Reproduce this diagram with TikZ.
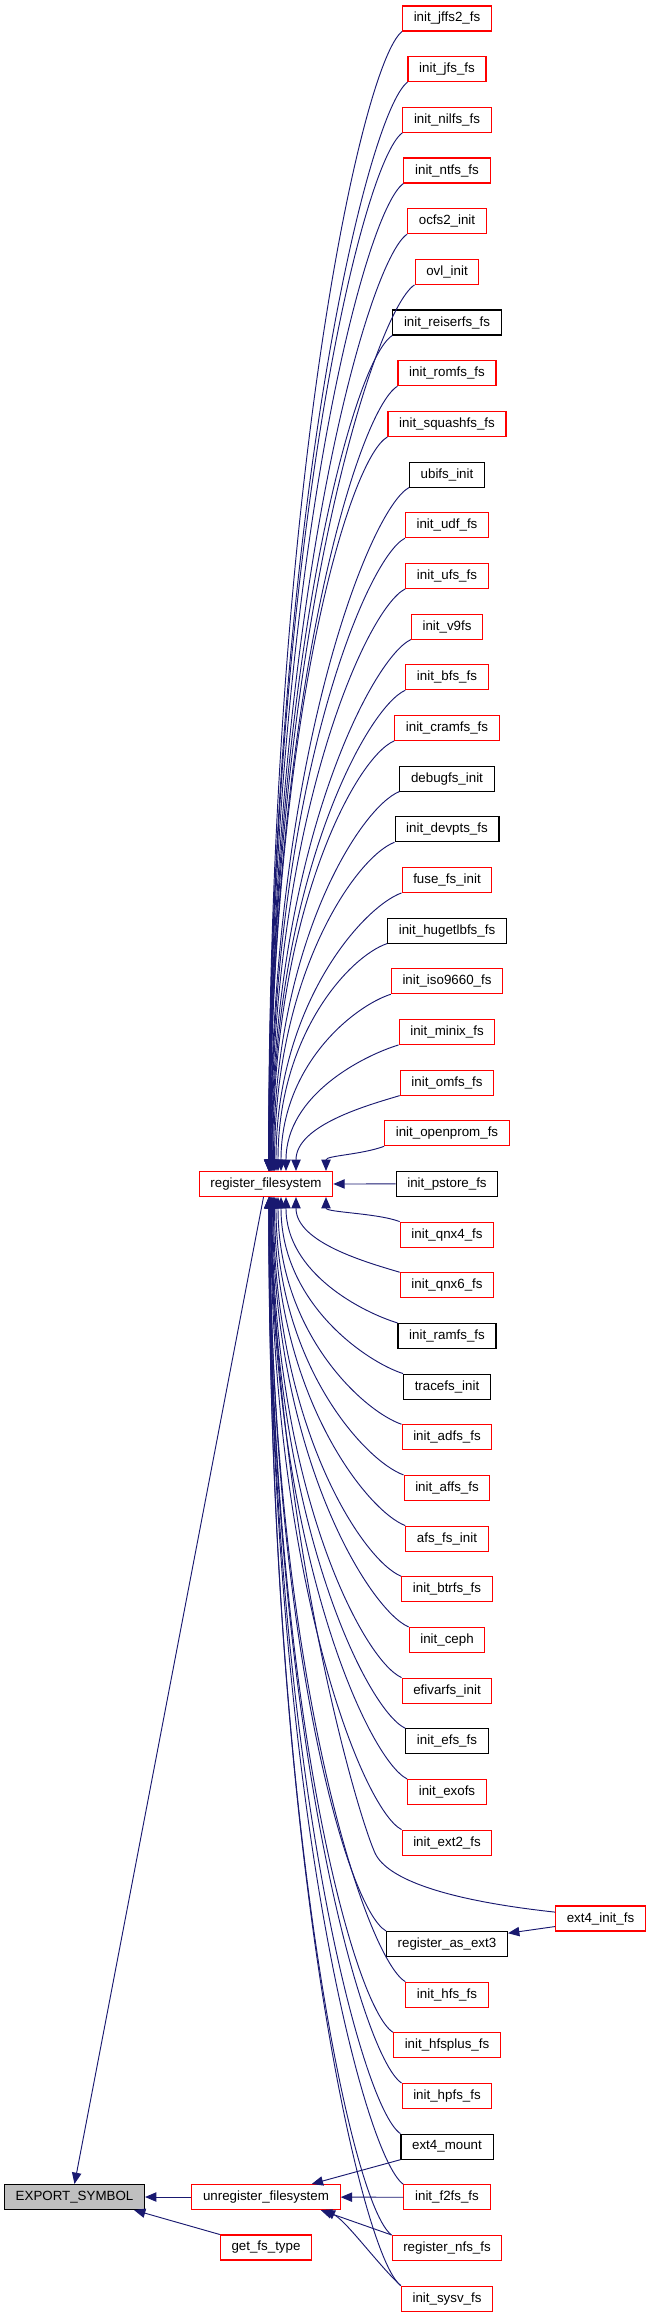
\documentclass[tikz,border=0pt]{standalone}
\usepackage{fontspec}
\setmainfont{Liberation Sans}
\usetikzlibrary{arrows.meta,calc}
\definecolor{midblue}{HTML}{191970}
\definecolor{rootgray}{HTML}{BFBFBF}

\begin{document}
\begin{tikzpicture}[x=0.75pt,y=-0.75pt,
  >={Triangle[length=8.5pt,width=7pt]},
  fsbox/.style={draw=red, line width=0.8pt, fill=white, minimum height=18.75pt,
    inner xsep=8.4pt, inner ysep=0pt, font=\fontsize{10}{12}\selectfont},
  callarrow/.style={draw=midblue, line width=0.7pt, <-, fill=none}]
\useasboundingbox (0,0) rectangle (651,2317);

% right column: callers, one per row
\foreach \r/\lbl/\clr in {0/init\_jffs2\_fs/red, 1/init\_jfs\_fs/red, 2/init\_nilfs\_fs/red,
    3/init\_ntfs\_fs/red, 4/ocfs2\_init/red, 5/ovl\_init/red, 6/init\_reiserfs\_fs/black,
    7/init\_romfs\_fs/red, 8/init\_squashfs\_fs/red, 9/ubifs\_init/black, 10/init\_udf\_fs/red,
    11/init\_ufs\_fs/red, 12/init\_v9fs/red, 13/init\_bfs\_fs/red, 14/init\_cramfs\_fs/red,
    15/debugfs\_init/black, 16/init\_devpts\_fs/black, 17/fuse\_fs\_init/red,
    18/init\_hugetlbfs\_fs/black, 19/init\_iso9660\_fs/red, 20/init\_minix\_fs/red,
    21/init\_omfs\_fs/red, 22/init\_openprom\_fs/red, 23/init\_pstore\_fs/black,
    24/init\_qnx4\_fs/red, 25/init\_qnx6\_fs/red, 26/init\_ramfs\_fs/black, 27/tracefs\_init/black,
    28/init\_adfs\_fs/red, 29/init\_affs\_fs/red, 30/afs\_fs\_init/red, 31/init\_btrfs\_fs/red,
    32/init\_ceph/red, 33/efivarfs\_init/red, 34/init\_efs\_fs/black, 35/init\_exofs/red,
    36/init\_ext2\_fs/red, 38/register\_as\_ext3/black, 39/init\_hfs\_fs/red,
    40/init\_hfsplus\_fs/red, 41/init\_hpfs\_fs/red, 42/ext4\_mount/black, 43/init\_f2fs\_fs/red,
    44/register\_nfs\_fs/red, 45/init\_sysv\_fs/red}
  \node[fsbox, draw=\clr] (fs\r) at (447,{18.5+50.67*\r}) {\lbl};

\node[fsbox] (ext4init) at (600.5,1918.5) {ext4\_init\_fs};
\node[fsbox] (rf) at (266,1184) {register\_filesystem};
\node[fsbox] (unreg) at (266,2197) {unregister\_filesystem};
\node[fsbox] (getfs) at (266,2247.5) {get\_fs\_type};
\node[fsbox, draw=black, fill=rootgray] (export) at (74.5,2197) {EXPORT\_SYMBOL};

% edges into register_filesystem, from above
\foreach \r in {0,...,22} {
  \pgfmathsetmacro\off{60/(23-\r)}
  \pgfmathsetmacro\dx{136-\off}
  \pgfmathsetmacro\dy{31+50.67*\r-1171.5}
  \draw[callarrow] ($(rf.north)+(\off,0)$) .. controls +(0,{0.6*\dy})
    and +({-0.3*\dx},{-0.02*\dy+8}) .. (fs\r.south west);
}
\draw[callarrow] (rf) -- (fs23);
% and from below
\foreach \r in {24,...,36,38,39,...,45} {
  \pgfmathsetmacro\off{60/(\r-23)}
  \pgfmathsetmacro\dx{136-\off}
  \pgfmathsetmacro\dy{6+50.67*\r-1196.5}
  \draw[callarrow] ($(rf.south)+(\off,0)$) .. controls +(0,{0.6*\dy})
    and +({-0.3*\dx},{-0.02*\dy-8}) .. (fs\r.north west);
}
\draw[callarrow] ($(rf.south)+(4,0)$) .. controls +(8,340) and +(-20,-45) .. (375,1853)
  .. controls +(12,26) and +(-110,-12) .. (ext4init.172);
\draw[callarrow] (fs38.10) -- (ext4init.-170);

% bottom group
\draw[callarrow] (export.north) -- (rf);
\draw[callarrow] (export) -- (unreg);
\draw[callarrow] ($(export.south east)+(-11,0)$) -- (getfs.north west);
\draw[callarrow] ($(unreg.north east)+(-29,0)$) -- (fs42.south west);
\draw[callarrow] (unreg) -- (fs43);
\draw[callarrow] ($(unreg.south east)+(-20,0)$) -- (fs44.north west);
\draw[callarrow] ($(unreg.south east)+(-17,0)$) .. controls +(22,10) and +(-22,-20) .. (fs45.north west);
\end{tikzpicture}
\end{document}
